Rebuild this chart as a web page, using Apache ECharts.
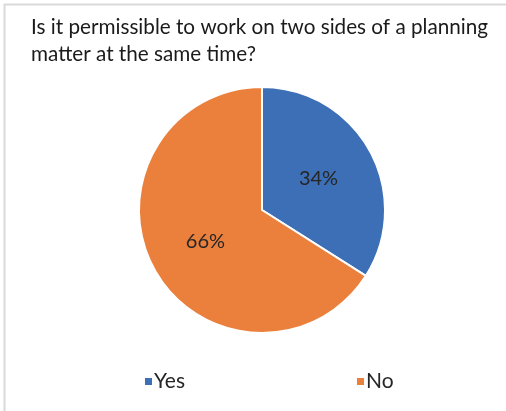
<!DOCTYPE html>
<html><head><meta charset="utf-8">
<script src="https://cdn.jsdelivr.net/npm/echarts@6/dist/echarts.min.js"></script>
<style>html,body{margin:0;padding:0;background:#fff}#c{width:506px;height:411px}</style>
</head><body><div id="c"></div>
<script>
const titleText = "Is it permissible to work on two sides of a planning\nmatter at the same time?";
const categories = ["Yes", "No"];
const values = [34, 66];
const colors = ["#3c6fb5", "#ea803c"];

const legendStyle = {
  top: 366, icon: 'rect', itemWidth: 9, itemHeight: 9, itemGap: 0,
  textStyle: {fontFamily: 'Lato', fontSize: 21, color: '#262626', padding: [0,0,0,-4]}
};
const chart = echarts.init(document.getElementById('c'), null, {renderer: 'canvas'});
chart.setOption({
  backgroundColor: '#fff',
  animation: false,
  title: {
    text: titleText, left: 26, top: 9,
    textStyle: {fontFamily: 'Lato', fontSize: 20.7, fontWeight: 'normal', color: '#1a1a1a', lineHeight: 27}
  },
  graphic: [
    {type: 'line', shape: {x1: 4.5, y1: 4, x2: 4.5, y2: 411}, style: {stroke: '#d9d9d9', lineWidth: 2}},
    {type: 'line', shape: {x1: 4, y1: 4.5, x2: 506, y2: 4.5}, style: {stroke: '#d9d9d9', lineWidth: 2}}
  ],
  legend: [
    Object.assign({data: [categories[0]], left: 138}, legendStyle),
    Object.assign({data: [categories[1]], left: 350}, legendStyle)
  ],
  series: [{
    type: 'pie', center: [262, 210], radius: 123, startAngle: 90, clockwise: true,
    itemStyle: {borderColor: '#fff', borderWidth: 2},
    label: {position: 'inside', formatter: '{c}%', fontFamily: 'Lato', fontSize: 20, color: '#262626'},
    labelLine: {show: false},
    data: categories.map((c, i) => ({name: c, value: values[i], itemStyle: {color: colors[i]}}))
  }]
});
</script></body></html>
